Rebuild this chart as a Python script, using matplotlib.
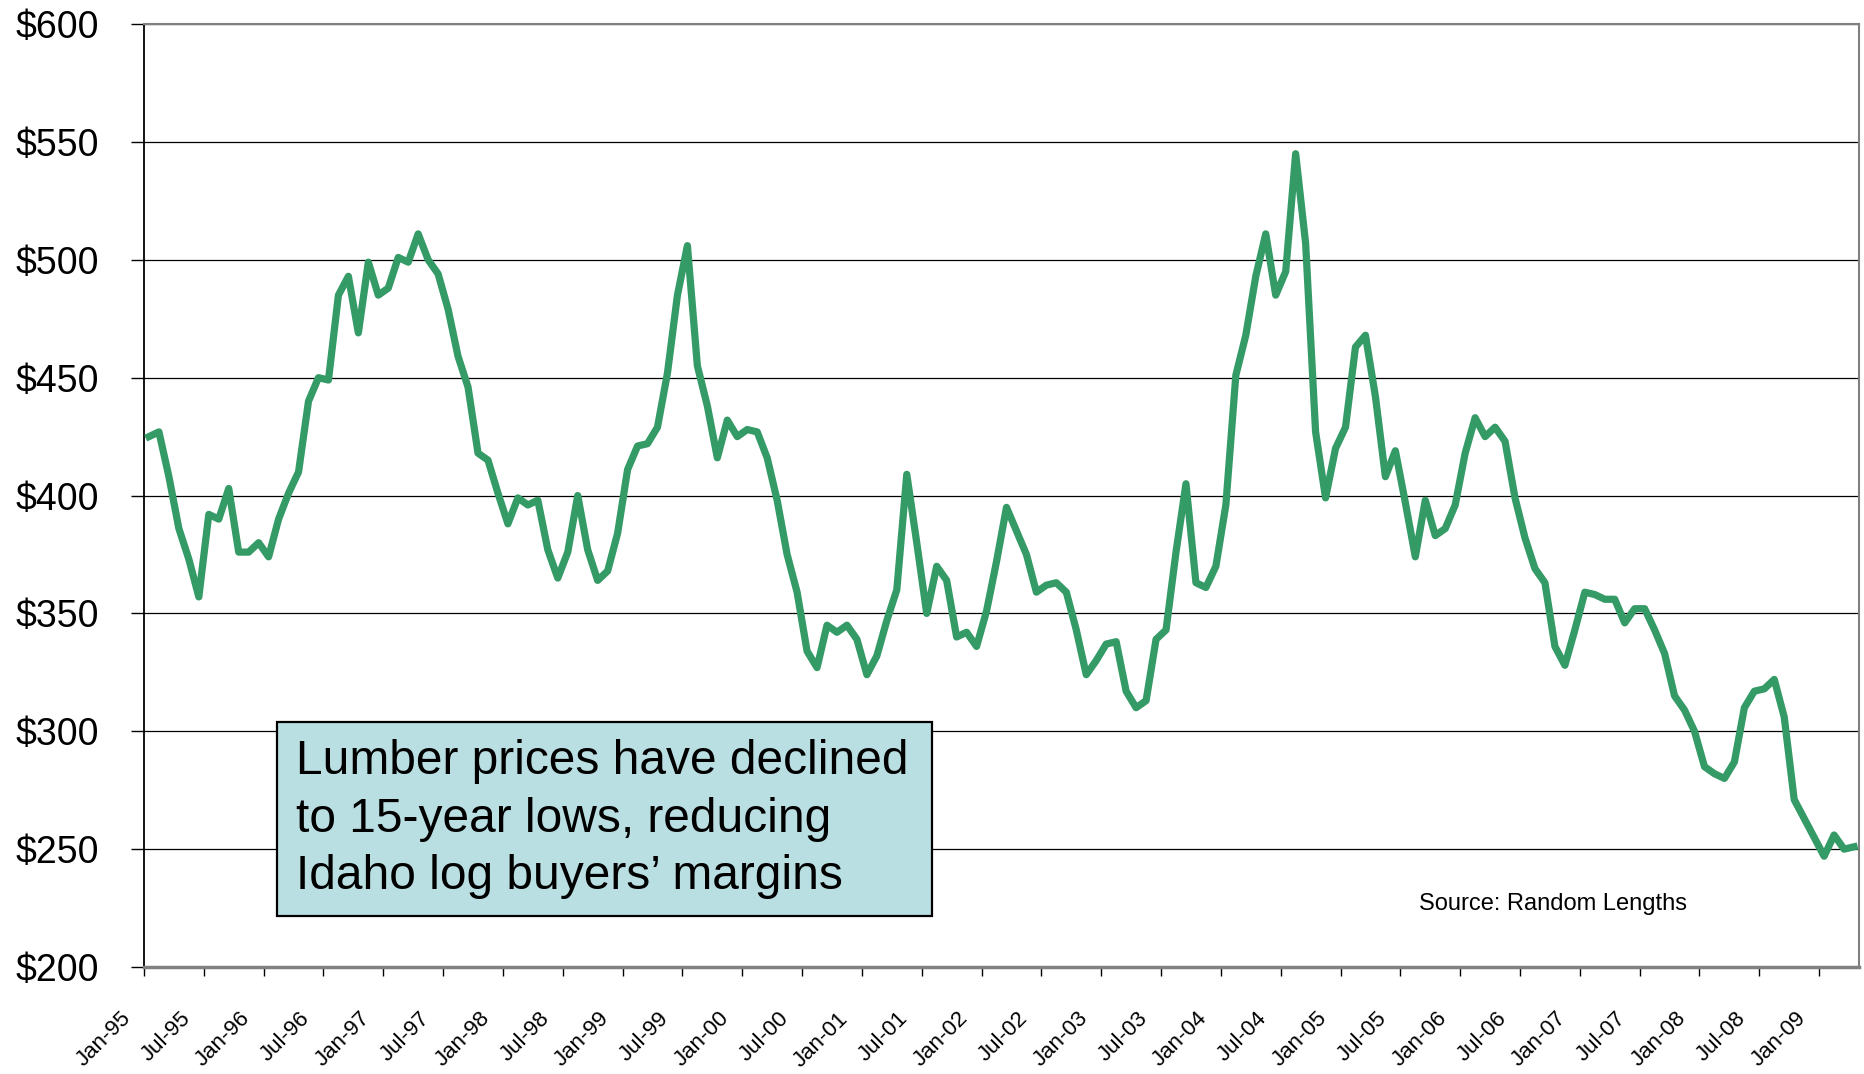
import matplotlib
import numpy as np

matplotlib.use("Agg")
import matplotlib.pyplot as plt
import matplotlib.transforms as mtransforms
from matplotlib.patches import Rectangle

# monthly lumber price, Jan-95 .. Apr-09 ($/mbf)
prices = [
    425, 427, 408, 386, 373, 357, 392, 390, 403, 376, 376, 380,
    374, 390, 401, 410, 440, 450, 449, 485, 493, 469, 499, 485,
    488, 501, 499, 511, 500, 494, 479, 459, 446, 418, 415, 401,
    388, 399, 396, 398, 377, 365, 376, 400, 377, 364, 368, 384,
    411, 421, 422, 429, 452, 485, 506, 455, 438, 416, 432, 425,
    428, 427, 416, 398, 375, 359, 334, 327, 345, 342, 345, 339,
    324, 332, 347, 360, 409, 380, 350, 370, 364, 340, 342, 336,
    351, 372, 395, 385, 375, 359, 362, 363, 359, 343, 324, 330,
    337, 338, 317, 310, 313, 339, 343, 376, 405, 363, 361, 370,
    396, 451, 468, 493, 511, 485, 495, 545, 507, 427, 399, 420,
    429, 463, 468, 442, 408, 419, 397, 374, 398, 383, 386, 396,
    418, 433, 425, 429, 423, 399, 382, 369, 363, 336, 328, 343,
    359, 358, 356, 356, 346, 352, 352, 343, 333, 315, 309, 300,
    285, 282, 280, 287, 310, 317, 318, 322, 306, 271, 263, 255,
    247, 256, 250, 251,
]

tick_labels = [
    "Jan-95", "Jul-95", "Jan-96", "Jul-96", "Jan-97", "Jul-97", "Jan-98",
    "Jul-98", "Jan-99", "Jul-99", "Jan-00", "Jul-00", "Jan-01", "Jul-01",
    "Jan-02", "Jul-02", "Jan-03", "Jul-03", "Jan-04", "Jul-04", "Jan-05",
    "Jul-05", "Jan-06", "Jul-06", "Jan-07", "Jul-07", "Jan-08", "Jul-08",
    "Jan-09",
]
y_ticks = [200, 250, 300, 350, 400, 450, 500, 550, 600]

note = "Lumber prices have declined\nto 15-year lows, reducing\nIdaho log buyers\u2019 margins"
source = "Source: Random Lengths"

plt.rcParams["font.family"] = ["Liberation Sans", "DejaVu Sans"]
narrow = ["Liberation Sans Narrow", "Liberation Sans"]

fig = plt.figure(figsize=(18.65, 10.74), dpi=100)
ax = fig.add_axes([0.0772, 0.0996, 0.9196, 0.878])

x = np.arange(len(prices)) + 0.5
ax.plot(x, prices, color="#349a66", lw=5.2, solid_joinstyle="round", zorder=3)

ax.set_xlim(0, len(prices))
ax.set_ylim(200, 600)

ax.set_yticks(y_ticks)
ax.set_yticklabels([f"${v}" for v in y_ticks])
ax.set_xticks(np.arange(len(tick_labels)) * 6)
ax.set_xticklabels(tick_labels, rotation=45, ha="right", va="top",
                   rotation_mode="anchor", family=narrow)

ax.grid(axis="y", color="black", lw=0.9)
ax.set_axisbelow(True)

ax.spines["left"].set_color("black")
ax.spines["left"].set_linewidth(1.3)
ax.spines["bottom"].set_color("#808080")
ax.spines["bottom"].set_linewidth(2.5)
for s in ("top", "right"):
    ax.spines[s].set_color("#808080")
    ax.spines[s].set_linewidth(1.5)

ax.tick_params(axis="y", direction="out", length=9.4, width=1, pad=23, labelsize=27)
ax.tick_params(axis="x", direction="out", length=6.5, width=1, pad=23, labelsize=16)

shift = mtransforms.ScaledTranslation(-0.24, 0, fig.dpi_scale_trans)
for lab in ax.get_xticklabels():
    lab.set_transform(lab.get_transform() + shift)

# annotation box
box = Rectangle((0.1485, 0.1471), 0.3512, 0.1806, transform=fig.transFigure,
                facecolor="#badfe3", edgecolor="black", lw=1.6, zorder=5)
fig.patches.append(box)
fig.text(0.1587, 0.2374, note, fontsize=34.5, ha="left", va="center",
         linespacing=1.36, zorder=6)

fig.text(0.8327, 0.1583, source, fontsize=17, ha="center", va="center",
         family=narrow)

fig.savefig("out.png", dpi=100)
